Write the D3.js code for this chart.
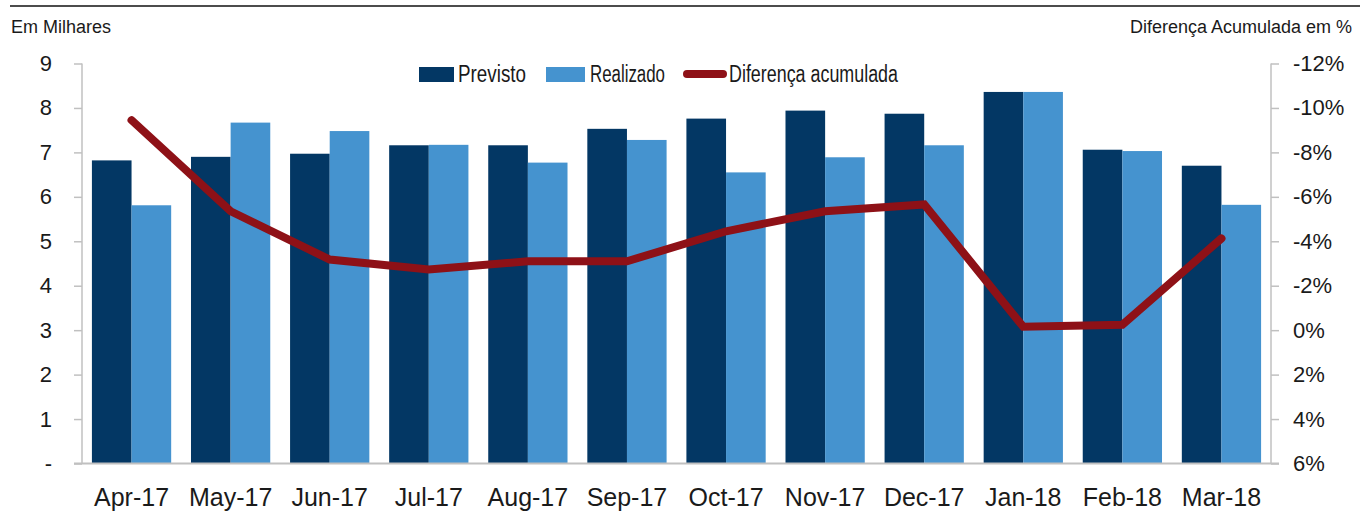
<!DOCTYPE html>
<html lang="pt">
<head>
<meta charset="utf-8">
<title>Previsto vs Realizado</title>
<script src="https://d3js.org/d3.v7.min.js"></script>
<style>
  body { margin: 0; background: #fff; }
  text { font-family: "Liberation Sans", Arial, sans-serif; fill: #1a1a1a; }
</style>
</head>
<body>
<script>
// data
var months = ["Apr-17", "May-17", "Jun-17", "Jul-17", "Aug-17", "Sep-17",
              "Oct-17", "Nov-17", "Dec-17", "Jan-18", "Feb-18", "Mar-18"];
var previsto  = [6.82, 6.90, 6.97, 7.16, 7.16, 7.53, 7.76, 7.94, 7.87, 8.36, 7.06, 6.70];
var realizado = [5.81, 7.67, 7.48, 7.17, 6.77, 7.28, 6.55, 6.89, 7.16, 8.36, 7.03, 5.82];
var diferenca = [-9.45, -5.35, -3.18, -2.73, -3.10, -3.10, -4.45, -5.35, -5.66, -0.15, -0.24, -4.13];
var leftTicks  = [0, 1, 2, 3, 4, 5, 6, 7, 8, 9];
var rightTicks = [-12, -10, -8, -6, -4, -2, 0, 2, 4, 6];

var width = 1360, height = 511;
var colDark = "#033764", colLight = "#4593cf", colLine = "#8e1117", axisCol = "#c0c0c0";

var svg = d3.select("body").append("svg")
    .attr("width", width)
    .attr("height", height);

var x = d3.scaleBand()
    .domain(months)
    .range([82, 1271])
    .paddingInner(0.2)
    .paddingOuter(0.1);

var xSub = d3.scaleBand()
    .domain(["previsto", "realizado"])
    .range([0, x.bandwidth()]);

var y = d3.scaleLinear().domain([0, 9]).range([463.5, 63.5]);
// right axis is reversed: -12% on top
var y2 = d3.scaleLinear().domain([-12, 6]).range([63.5, 463.5]);

// top rule
svg.append("line")
    .attr("x1", 10).attr("x2", 1360)
    .attr("y1", 6).attr("y2", 6)
    .attr("stroke", "#111").attr("stroke-width", 1.5);

// axis titles
svg.append("text").attr("x", 11).attr("y", 33)
    .style("font-size", "18px").text("Em Milhares");
svg.append("text").attr("x", 1352).attr("y", 33)
    .attr("text-anchor", "end")
    .style("font-size", "18px").text("Diferença Acumulada em %");

// bars
var groups = svg.append("g").selectAll("g")
    .data(months)
    .enter().append("g")
    .attr("transform", function(d) { return "translate(" + x(d) + ",0)"; });

groups.append("rect")
    .attr("x", xSub("previsto"))
    .attr("width", xSub.bandwidth())
    .attr("y", function(d, i) { return y(previsto[i]); })
    .attr("height", function(d, i) { return y(0) - y(previsto[i]); })
    .attr("fill", colDark);

groups.append("rect")
    .attr("x", xSub("realizado"))
    .attr("width", xSub.bandwidth())
    .attr("y", function(d, i) { return y(realizado[i]); })
    .attr("height", function(d, i) { return y(0) - y(realizado[i]); })
    .attr("fill", colLight);

// left axis
var leftAxis = svg.append("g").attr("transform", "translate(82,0)")
    .call(d3.axisLeft(y).tickValues(leftTicks).tickSize(8)
        .tickFormat(function(d) { return d === 0 ? "-" : d; }));
leftAxis.select(".domain").remove();
leftAxis.selectAll(".tick line").attr("stroke", axisCol).attr("stroke-width", 1.5);
leftAxis.selectAll(".tick text")
    .attr("x", -30)
    .style("font-size", "22px")
    .style("font-family", "'Liberation Sans', Arial, sans-serif")
    .attr("fill", "#1a1a1a");

// right axis
var rightAxis = svg.append("g").attr("transform", "translate(1271,0)")
    .call(d3.axisRight(y2).tickValues(rightTicks).tickSize(8)
        .tickFormat(function(d) { return d + "%"; }));
rightAxis.select(".domain").remove();
rightAxis.selectAll(".tick line").attr("stroke", axisCol).attr("stroke-width", 1.5);
rightAxis.selectAll(".tick text")
    .attr("x", 22)
    .style("font-size", "22px")
    .style("font-family", "'Liberation Sans', Arial, sans-serif")
    .attr("fill", "#1a1a1a");

// axis lines and baseline
svg.append("line").attr("x1", 82).attr("x2", 82).attr("y1", 63.5).attr("y2", 463.5)
    .attr("stroke", axisCol).attr("stroke-width", 1.5);
svg.append("line").attr("x1", 1271).attr("x2", 1271).attr("y1", 63.5).attr("y2", 463.5)
    .attr("stroke", axisCol).attr("stroke-width", 1.5);
svg.append("line").attr("x1", 74).attr("x2", 1279).attr("y1", 463.5).attr("y2", 463.5)
    .attr("stroke", axisCol).attr("stroke-width", 2);

// x labels
svg.append("g").selectAll("text")
    .data(months)
    .enter().append("text")
    .attr("x", function(d) { return x(d) + x.bandwidth() / 2; })
    .attr("y", 506)
    .attr("text-anchor", "middle")
    .style("font-size", "25px")
    .text(function(d) { return d; });

// cumulative difference line
var line = d3.line()
    .x(function(d, i) { return x(months[i]) + x.bandwidth() / 2; })
    .y(function(d) { return y2(d); });

svg.append("path")
    .datum(diferenca)
    .attr("d", line)
    .attr("fill", "none")
    .attr("stroke", colLine)
    .attr("stroke-width", 8)
    .attr("stroke-linecap", "round")
    .attr("stroke-linejoin", "miter");

// legend (reference font is condensed, so squeeze text to its width)
var legend = svg.append("g");
legend.append("rect").attr("x", 419).attr("y", 67).attr("width", 35).attr("height", 15).attr("fill", colDark);
legend.append("text").attr("x", 458).attr("y", 82).style("font-size", "23px")
    .attr("textLength", 68).attr("lengthAdjust", "spacingAndGlyphs").text("Previsto");
legend.append("rect").attr("x", 546).attr("y", 67).attr("width", 39).attr("height", 15).attr("fill", colLight);
legend.append("text").attr("x", 590).attr("y", 82).style("font-size", "23px")
    .attr("textLength", 75).attr("lengthAdjust", "spacingAndGlyphs").text("Realizado");
legend.append("line").attr("x1", 687).attr("x2", 723).attr("y1", 74).attr("y2", 74)
    .attr("stroke", colLine).attr("stroke-width", 8).attr("stroke-linecap", "round");
legend.append("text").attr("x", 729).attr("y", 82).style("font-size", "23px")
    .attr("textLength", 169).attr("lengthAdjust", "spacingAndGlyphs").text("Diferença acumulada");
</script>
</body>
</html>
